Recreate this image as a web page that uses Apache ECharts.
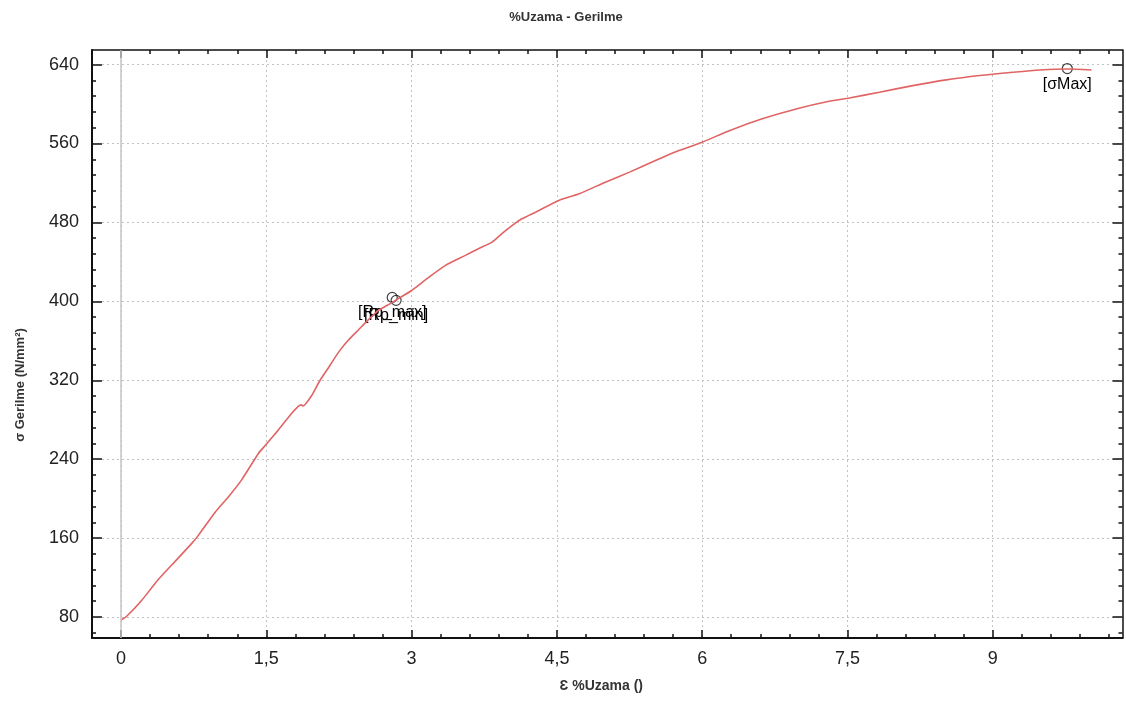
<!DOCTYPE html>
<html><head><meta charset="utf-8">
<script src="https://cdn.jsdelivr.net/npm/echarts@6/dist/echarts.min.js"></script>
<style>html,body{margin:0;padding:0;background:#fff}#c{width:1126px;height:702px}</style>
</head><body><div id="c"></div>
<script>
// ---- data ----
const strain = [0, 0.05, 0.21, 0.38, 0.555, 0.73, 0.80, 0.97, 1.11, 1.245, 1.42, 1.49, 1.62, 1.745, 1.83, 1.86, 1.88, 1.97, 2.055, 2.15, 2.25, 2.35, 2.45, 2.55, 2.66, 2.75, 2.85, 3.0, 3.18, 3.35, 3.555, 3.69, 3.83, 3.93, 4.04, 4.14, 4.28, 4.52, 4.73, 5.0, 5.25, 5.5, 5.76, 6.0, 6.28, 6.62, 6.97, 7.31, 7.52, 7.83, 8.175, 8.52, 8.865, 9.21, 9.49, 9.77, 10.02];
const stress = [77, 80, 96.5, 117.5, 136, 154.6, 163, 186, 202, 219, 246, 254, 269, 284.6, 293.5, 295, 294, 304.8, 320, 334, 349, 361, 371, 381, 391, 396, 402, 411, 424.6, 436.5, 446.6, 453.4, 460, 468.5, 477, 483.7, 490.4, 502.3, 509, 520.8, 531, 542, 552.9, 561.3, 573, 585, 595, 602.8, 606.2, 612, 618.7, 624.5, 628.9, 632.2, 634.5, 635.5, 634.5];
const markerNames = ['[Rp_max]', '[Rp_min]', '[σMax]'];
const markerX = [2.80, 2.84, 9.77];
const markerY = [404, 401, 636];
const xMajorTicks = [0, 1.5, 3, 4.5, 6, 7.5, 9];
const xMinorTicks = [-0.3, 0.3, 0.6, 0.9, 1.2, 1.8, 2.1, 2.4, 2.7, 3.3, 3.6, 3.9, 4.2, 4.8, 5.1, 5.4, 5.7, 6.3, 6.6, 6.9, 7.2, 7.8, 8.1, 8.4, 8.7, 9.3, 9.6, 9.9, 10.2];
const yMajorTicks = [80, 160, 240, 320, 400, 480, 560, 640];
const yMinorTicks = [64, 96, 112, 128, 144, 176, 192, 208, 224, 256, 272, 288, 304, 336, 352, 368, 384, 416, 432, 448, 464, 496, 512, 528, 544, 576, 592, 608, 624];
const xRange = [-0.3, 10.34];
const yRange = [58.7, 654.8];
const titleText = '%Uzama - Gerilme';
const xName = 'Ɛ %Uzama ()';
const yName = 'σ Gerilme (N/mm²)';

const FONT = "'Liberation Sans', Arial, sans-serif";
const gridLine = { show: true, lineStyle: { color: '#c2c2c2', type: [2, 3], width: 1 } };
const fmtX = v => String(v).replace('.', ',');

function axis(kind, pos, major, lineW, withLabels) {
  const isX = kind === 'x';
  const range = isX ? xRange : yRange;
  const ticks = isX ? (major ? xMajorTicks : xMinorTicks) : (major ? yMajorTicks : yMinorTicks);
  const a = {
    type: 'value', position: pos, min: range[0], max: range[1],
    axisLine: { show: major, onZero: false, lineStyle: { color: '#111', width: lineW } },
    axisTick: { show: true, inside: true, customValues: ticks, length: major ? (isX ? 8 : 10) : 4, lineStyle: { color: '#111', width: 1.5 } },
    axisLabel: { show: false },
    splitLine: { show: false },
    minorTick: { show: false }, minorSplitLine: { show: false }
  };
  if (withLabels) {
    a.axisLabel = {
      show: true, customValues: ticks, fontFamily: FONT, fontSize: 18, color: '#222',
      margin: isX ? 12 : 13, formatter: isX ? fmtX : (v => String(v))
    };
    a.splitLine = gridLine;
  }
  return a;
}

const xAxes = [axis('x', 'bottom', true, 2, true), axis('x', 'bottom', false, 2, false), axis('x', 'top', true, 1.5, false), axis('x', 'top', false, 1.5, false)];
xAxes[0].name = xName;
xAxes[0].nameLocation = 'middle';
xAxes[0].nameGap = 41;
xAxes[0].nameTextStyle = { fontFamily: FONT, fontSize: 14, fontWeight: 'bold', color: '#333', padding: [0, 12, 0, 0] };
const yAxes = [axis('y', 'left', true, 2, true), axis('y', 'left', false, 2, false), axis('y', 'right', true, 1.5, false), axis('y', 'right', false, 1.5, false)];

const curve = strain.map((x, i) => [x, stress[i]]);
const markers = markerX.map((x, i) => ({ name: markerNames[i], value: [x, markerY[i]] }));

const chart = echarts.init(document.getElementById('c'));
chart.setOption({
  animation: false,
  backgroundColor: '#fff',
  title: { text: titleText, left: 561, top: 6, textAlign: 'center', textStyle: { fontFamily: FONT, fontSize: 13, fontWeight: 'bold', color: '#333' } },
  grid: { left: 92, right: 3.5, top: 50, bottom: 64, containLabel: false, outerBoundsMode: 'none' },
  xAxis: xAxes,
  yAxis: yAxes,
  graphic: [{
    type: 'text', x: 20, y: 385, rotation: Math.PI / 2,
    style: { text: yName, align: 'center', verticalAlign: 'middle', font: "bold 13px 'Liberation Sans', Arial, sans-serif", fill: '#333' }
  }],
  series: [
    {
      type: 'line', xAxisIndex: 0, yAxisIndex: 0, data: curve, showSymbol: false, silent: true,
      smooth: 0.2,
      lineStyle: { color: '#e06464', width: 1.6 },
      markLine: { silent: true, symbol: 'none', label: { show: false }, lineStyle: { color: '#c4c4c4', type: 'solid', width: 1.5 }, data: [{ xAxis: 0 }] }
    },
    {
      type: 'scatter', xAxisIndex: 0, yAxisIndex: 0, data: markers, symbol: 'circle', symbolSize: 10,
      itemStyle: { color: 'rgba(0,0,0,0)', borderColor: '#111', borderWidth: 1.2 },
      label: { show: true, position: 'bottom', distance: 2, formatter: p => p.name, fontFamily: FONT, fontSize: 16, color: '#000', opacity: 1 }
    }
  ]
});
</script>
</body></html>
